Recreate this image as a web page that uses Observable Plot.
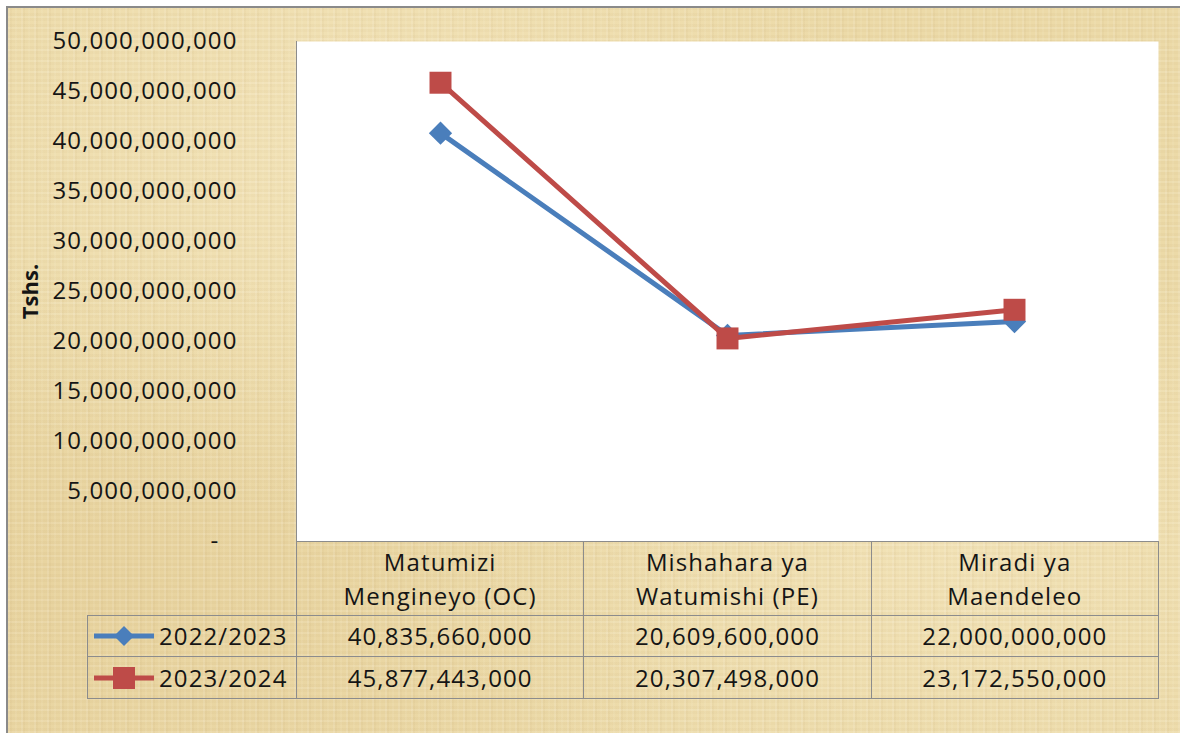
<!DOCTYPE html>
<html>
<head>
<meta charset="utf-8">
<script src="https://cdn.jsdelivr.net/npm/d3@7"></script>
<script src="https://cdn.jsdelivr.net/npm/@observablehq/plot@0.6"></script>
<style>
  html, body { margin: 0; padding: 0; background: #ffffff; }
  #wrap { position: relative; width: 1180px; height: 733px; overflow: hidden; background: #ffffff;
          font-family: "Open Sans", sans-serif; color: #1a1a1a; }
  #parch { position: absolute; left: 6px; top: 6px; right: 0; bottom: 0;
           border-top: 2px solid #8a8a8a; border-left: 2px solid #8a8a8a;
           background-color: #ecdaa8;
           background-image:
             repeating-linear-gradient(90deg, rgba(255,255,255,0.10) 0 2px, rgba(150,110,50,0.04) 2px 4px, transparent 4px 7px, rgba(255,250,230,0.08) 7px 9px, transparent 9px 13px),
             repeating-linear-gradient(0deg, rgba(255,255,255,0.08) 0 2px, rgba(150,110,50,0.04) 2px 5px, transparent 5px 8px, rgba(140,100,40,0.03) 8px 11px),
             radial-gradient(ellipse at 30% 20%, rgba(255,245,215,0.35), transparent 45%),
             radial-gradient(ellipse at 80% 75%, rgba(255,245,215,0.30), transparent 40%),
             radial-gradient(ellipse at 10% 80%, rgba(200,160,90,0.12), transparent 40%); }
  #chart { position: absolute; left: 0; top: 0; }
  .cell { position: absolute; box-sizing: border-box; display: flex; align-items: center; justify-content: center;
          text-align: center; font-size: 24px; line-height: 34px; letter-spacing: 1.1px; color: #151515; }
</style>
</head>
<body>
<div id="wrap"><div id="parch"></div><div id="chart"></div></div>
<script>
// ---- data ----
const categories = ["Matumizi Mengineyo (OC)", "Mishahara ya Watumishi (PE)", "Miradi ya Maendeleo"];
const headerLines = [["Matumizi", "Mengineyo (OC)"], ["Mishahara ya", "Watumishi (PE)"], ["Miradi ya", "Maendeleo"]];
const seriesNames = ["2022/2023", "2023/2024"];
const values2022 = [40835660000, 20609600000, 22000000000];
const values2023 = [45877443000, 20307498000, 23172550000];
const yTicks = [0, 5e9, 10e9, 15e9, 20e9, 25e9, 30e9, 35e9, 40e9, 45e9, 50e9];
const seriesColors = ["#4a7ebb", "#be4b48"];
const seriesSymbols = ["diamond2", "square"];

const rows = [values2022, values2023];
const data = rows.flatMap((vals, si) => vals.map((v, i) => ({series: seriesNames[si], cat: categories[i], value: v})));

const fmt = d3.format(",");
const W = 1180, H = 560, mL = 296, mR = 22, mT = 41, mB = 19;

const lineMarks = seriesNames.flatMap((s, si) => [
  Plot.line(data.filter(d => d.series === s), {x: "cat", y: "value", stroke: seriesColors[si], strokeWidth: 5}),
  Plot.dot(data.filter(d => d.series === s), {x: "cat", y: "value", fill: seriesColors[si], stroke: "none",
    symbol: seriesSymbols[si], r: si === 0 ? 10.5 : 12.4})
]);

const chart = Plot.plot({
  width: W, height: H,
  marginLeft: mL, marginRight: mR, marginTop: mT, marginBottom: mB,
  style: {background: "transparent", fontFamily: "'Open Sans', sans-serif", fontSize: "24px", color: "#151515", overflow: "visible"},
  x: {type: "point", domain: categories, padding: 0.5, axis: null},
  y: {domain: [0, 50e9], axis: null},
  marks: [
    Plot.frame({fill: "white", stroke: null}),
    Plot.frame({anchor: "left", stroke: "#8c8c8c"}),
    Plot.axisY({ticks: yTicks, tickSize: 0, tickPadding: 59, fontSize: 24, fill: "#151515", label: null,
      tickFormat: d => d === 0 ? "-\u2002\u2006" : fmt(d)}),
    Plot.text(["Tshs."], {frameAnchor: "left", textAnchor: "middle", rotate: -90, dx: -266, fontWeight: "bold", fontSize: 22, fill: "#151515"}),
    ...lineMarks
  ]
});
chart.querySelectorAll("g[aria-label='y-axis tick label'] text").forEach(t => { t.style.letterSpacing = "1.1px"; t.style.whiteSpace = "pre"; });
const wrap = document.getElementById("wrap");
document.getElementById("chart").appendChild(chart);

// ---- data table below the plot ----
const colW = (W - mL - mR) / categories.length;
const headTop = H - mB, headH = 74, rowH = [41, 42];
const legendLeft = 87;
const bc = "1px solid #8c8c8c";
function cell(left, topPx, w, h, html, borders) {
  const d = document.createElement("div");
  d.className = "cell";
  Object.assign(d.style, {left: left + "px", top: topPx + "px", width: w + "px", height: h + "px"}, borders);
  d.innerHTML = html;
  wrap.appendChild(d);
  return d;
}
const allBorders = {borderLeft: bc, borderRight: bc, borderTop: bc, borderBottom: bc};
categories.forEach((c, i) => {
  cell(mL + i * colW, headTop, colW + 1, headH + 1, headerLines[i].join("<br>"), allBorders);
});
let rowTop = headTop + headH;
rows.forEach((vals, si) => {
  const h = rowH[si];
  const sw = `<svg width="62" height="24" style="margin-right:4px;flex:none">
      <line x1="1" y1="12" x2="61" y2="12" stroke="${seriesColors[si]}" stroke-width="5"/>
      ${si === 0 ? `<path d="M31,2 L41,12 L31,22 L21,12 Z" fill="${seriesColors[si]}"/>`
                 : `<rect x="20" y="1" width="22" height="22" fill="${seriesColors[si]}"/>`}
    </svg>`;
  cell(legendLeft, rowTop, mL - legendLeft + 1, h + 1, sw + `<span>${seriesNames[si]}</span>`,
    Object.assign({}, allBorders, {justifyContent: "flex-start", paddingLeft: "5px"}));
  vals.forEach((v, i) => {
    cell(mL + i * colW, rowTop, colW + 1, h + 1, fmt(v), allBorders);
  });
  rowTop += h;
});
</script>
</body>
</html>
